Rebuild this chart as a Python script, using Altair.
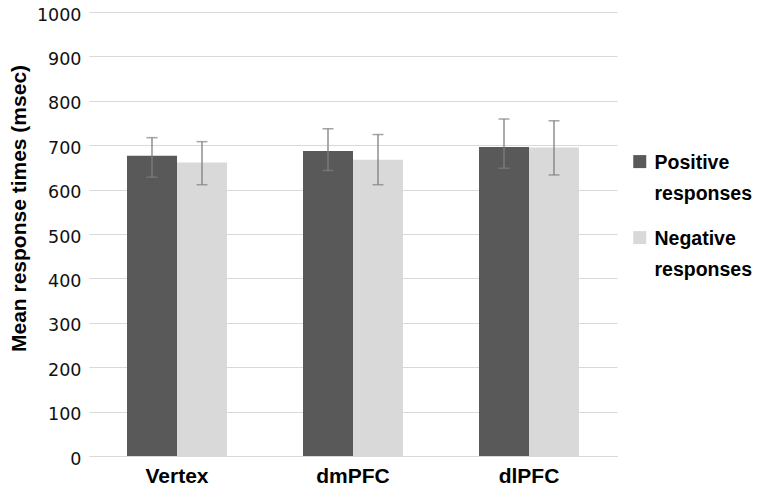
import altair as alt
import pandas as pd

regions = ["Vertex", "dmPFC", "dlPFC"]
series = ["Positive responses", "Negative responses"]
pos_mean = [676, 687, 696]
neg_mean = [661, 667, 695]
pos_low = [628, 643, 648]
pos_high = [717, 737, 759]
neg_low = [611, 611, 633]
neg_high = [708, 724, 755]
y_ticks = [0, 100, 200, 300, 400, 500, 600, 700, 800, 900, 1000]
colors = ["#595959", "#d9d9d9"]

rows = []
for i, r in enumerate(regions):
    rows.append({"region": r, "series": series[0], "mean": pos_mean[i], "low": pos_low[i], "high": pos_high[i]})
    rows.append({"region": r, "series": series[1], "mean": neg_mean[i], "low": neg_low[i], "high": neg_high[i]})
df = pd.DataFrame(rows)

x = alt.X(
    "region:N", sort=regions,
    scale=alt.Scale(paddingInner=0.4318, paddingOuter=0.2159),
    axis=alt.Axis(
        title=None, labelAngle=0, ticks=False, grid=False,
        domainColor="#d9d9d9", domainWidth=1,
        labelFont="Liberation Sans", labelFontWeight="bold", labelFontSize=21,
        labelColor="#000000", labelPadding=26, labelBaseline="alphabetic",
    ),
)
xo = alt.XOffset("series:N", sort=series, scale=alt.Scale(paddingInner=0, paddingOuter=0))
yscale = alt.Scale(domain=[0, 1000], nice=False)

bars = alt.Chart(df).mark_bar().encode(
    x=x,
    xOffset=xo,
    y=alt.Y(
        "mean:Q", scale=yscale,
        axis=alt.Axis(
            values=y_ticks, format="d", title="Mean response times (msec)",
            ticks=False, domain=False, gridColor="#d9d9d9", gridWidth=1,
            labelFont="DejaVu Sans", labelFontSize=17.5, labelColor="#111111",
            labelPadding=8, labelOffset=3,
            titleFont="Liberation Sans", titleFontSize=21, titleFontWeight="bold",
            titleColor="#000000", titleAngle=270, titleBaseline="alphabetic",
            titleAlign="center", titleX=-64, titleY=196,
        ),
    ),
    color=alt.Color(
        "series:N",
        scale=alt.Scale(domain=series, range=colors),
        legend=alt.Legend(
            title=None, orient="none", legendX=541, legendY=147,
            labelExpr="split(datum.label, ' ')",
            labelFont="Liberation Sans", labelFontSize=19.5, labelFontWeight="bold",
            labelColor="#000000", labelBaseline="alphabetic", labelLimit=0,
            symbolType="M-1,-2.1H1V-0.1H-1Z", symbolSize=169, symbolStrokeWidth=0,
            labelOffset=5, rowPadding=24, padding=0,
        ),
    ),
)

rules = alt.Chart(df).mark_rule(color="#7f7f7f", strokeWidth=1.3).encode(
    x=x, xOffset=xo,
    y=alt.Y("low:Q", scale=yscale),
    y2="high:Q",
)

caps_hi = alt.Chart(df).mark_tick(color="#7f7f7f", size=11, thickness=1.5).encode(
    x=x, xOffset=xo, y=alt.Y("high:Q", scale=yscale),
)
caps_lo = alt.Chart(df).mark_tick(color="#7f7f7f", size=11, thickness=1.5).encode(
    x=x, xOffset=xo, y=alt.Y("low:Q", scale=yscale),
)

chart = alt.layer(bars, rules, caps_hi, caps_lo).properties(
    width=528, height=444,
    autosize=alt.AutoSizeParams(type="none"),
    padding={"left": 81, "top": 4, "right": 135, "bottom": 31},
).configure(
    view=alt.ViewConfig(strokeWidth=0),
    style={"guide-label": {"lineHeight": 31.7}},
)

chart.save("out.html", embed_options={"renderer": "svg", "actions": False})
